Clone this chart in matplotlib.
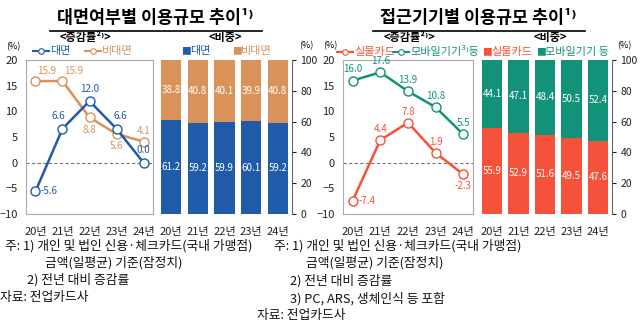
import matplotlib
matplotlib.use("Agg")
import matplotlib.pyplot as plt
from matplotlib.lines import Line2D

plt.rcParams['font.family'] = ['Noto Sans CJK KR', 'DejaVu Sans']

years = ['20년', '21년', '22년', '23년', '24년']

# left panel: 대면 / 비대면
face_growth = [-5.6, 6.6, 12.0, 6.6, 0.0]
nonface_growth = [15.9, 15.9, 8.8, 5.6, 4.1]
face_share = [61.2, 59.2, 59.9, 60.1, 59.2]
nonface_share = [38.8, 40.8, 40.1, 39.9, 40.8]

# right panel: 실물카드 / 모바일기기 등
card_growth = [-7.4, 4.4, 7.8, 1.9, -2.3]
mobile_growth = [16.0, 17.6, 13.9, 10.8, 5.5]
card_share = [55.9, 52.9, 51.6, 49.5, 47.6]
mobile_share = [44.1, 47.1, 48.4, 50.5, 52.4]

BLUE = '#1f5ba8'
TAN = '#d9925a'
RED = '#f4523a'
GREEN = '#13927a'

W, H = 640, 332
fig = plt.figure(figsize=(6.4, 3.32), dpi=100)


def px_axes(x0, y0, x1, y1):
    return fig.add_axes([x0 / W, 1 - y1 / H, (x1 - x0) / W, (y1 - y0) / H])


def ftext(x, y, s, **kw):
    fig.text(x / W, 1 - y / H, s, **kw)


def line_panel(ax, s1, s2, c1, c2, offs1, offs2):
    x = range(len(years))
    ax.axhline(0, color='#777777', lw=0.8, ls=(0, (3, 2)))
    for s, c, offs in ((s2, c2, offs2), (s1, c1, offs1)):
        ax.plot(x, s, color=c, lw=1.8, marker='o', ms=6.5,
                mfc='white', mec=c, mew=1.0, zorder=3)
        for i, v in enumerate(s):
            dx, dy, ha = offs[i]
            ax.annotate(f'{v:.1f}', (i, v), xytext=(dx, dy),
                        textcoords='offset points', ha=ha, va='center',
                        fontsize=7, color=c)
    ax.set_ylim(-10, 20)
    ax.set_yticks(range(-10, 21, 5))
    ax.set_xlim(-0.35, 4.35)
    ax.set_xticks(list(x))
    ax.set_xticklabels(years)
    for sp in ax.spines.values():
        sp.set_color('#aaaaaa')
        sp.set_linewidth(0.8)
    ax.tick_params(length=0, labelsize=8, colors='#222222')
    ax.tick_params(axis='x', pad=9)
    ax.tick_params(axis='y', pad=6)


def bar_panel(ax, bottom, top, cb, ct):
    x = range(len(years))
    ax.bar(x, bottom, width=0.76, color=cb)
    ax.bar(x, top, width=0.76, bottom=bottom, color=ct)
    for i in x:
        ax.text(i, bottom[i] / 2, f'{bottom[i]:.1f}', ha='center',
                va='center', color='white', fontsize=7)
        ax.text(i, bottom[i] + top[i] / 2, f'{top[i]:.1f}', ha='center',
                va='center', color='white', fontsize=7)
    ax.set_ylim(0, 100)
    ax.set_xlim(-0.38, 4.53)
    ax.set_xticks(list(x))
    ax.set_xticklabels(years)
    ax.yaxis.tick_right()
    ax.set_yticks(range(0, 101, 20))
    for k in ('top', 'left', 'bottom'):
        ax.spines[k].set_visible(False)
    ax.spines['right'].set_color('#666666')
    ax.spines['right'].set_linewidth(0.8)
    ax.tick_params(axis='y', length=3, direction='out', labelsize=7.5,
                   colors='#222222', pad=3)
    ax.tick_params(axis='x', length=0, labelsize=8, colors='#222222', pad=9)


def line_legend(x, y, label, c):
    fig.add_artist(Line2D([x / W, (x + 16) / W], [1 - y / H, 1 - y / H],
                          color=c, lw=1.5, transform=fig.transFigure))
    fig.add_artist(Line2D([(x + 8) / W], [1 - y / H], marker='o', ms=4,
                          mfc='white', mec=c, mew=0.8, transform=fig.transFigure))
    ftext(x + 17, y, label, color=c, fontsize=8, va='center', ha='left')


def box_legend(x, y, label, c):
    ftext(x, y, '■', color=c, fontsize=7, va='center', ha='left')
    ftext(x + 9, y, label, color=c, fontsize=8, va='center', ha='left')


# ---------- left panel ----------
ax1 = px_axes(26, 60, 153, 214)
line_panel(ax1, face_growth, nonface_growth, BLUE, TAN,
           [(4, 0, 'left'), (-3, 9, 'center'), (0, 9, 'center'), (3, 9, 'center'), (0, 9, 'center')],
           [(8, 7, 'center'), (8, 7, 'center'), (0, -9, 'center'), (0, -9, 'center'), (0, 8, 'center')])
ax2 = px_axes(161, 60, 292, 214)
bar_panel(ax2, face_share, nonface_share, BLUE, TAN)

ftext(155, 18, '대면여부별 이용규모 추이¹⁾', fontsize=12.5, fontweight='bold',
      ha='center', va='center')
fig.add_artist(Line2D([50 / W, 262 / W], [1 - 31 / H, 1 - 31 / H], color='black',
                      lw=1.2, transform=fig.transFigure))
ftext(85, 38, '<증감률²⁾>', fontsize=8, fontweight='bold', ha='center', va='center')
ftext(225, 38, '<비중>', fontsize=8, fontweight='bold', ha='center', va='center')
ftext(13, 47, '(%)', fontsize=6.5, ha='center', va='center')
ftext(306, 46, '(%)', fontsize=6.5, ha='center', va='center')
line_legend(33, 51, '대면', BLUE)
line_legend(85, 51, '비대면', TAN)
box_legend(181, 51, '대면', BLUE)
box_legend(232, 51, '비대면', TAN)

# ---------- right panel ----------
ax3 = px_axes(343, 60, 473, 214)
line_panel(ax3, card_growth, mobile_growth, RED, GREEN,
           [(4, 0, 'left'), (0, 8, 'center'), (0, 8, 'center'), (0, 8, 'center'), (0, -8, 'center')],
           [(0, 8, 'center'), (0, 8, 'center'), (0, 8, 'center'), (0, 8, 'center'), (0, 8, 'center')])
ax4 = px_axes(482, 60, 612, 214)
bar_panel(ax4, card_share, mobile_share, RED, GREEN)

ftext(478, 18, '접근기기별 이용규모 추이¹⁾', fontsize=12.5, fontweight='bold',
      ha='center', va='center')
fig.add_artist(Line2D([373 / W, 585 / W], [1 - 31 / H, 1 - 31 / H], color='black',
                      lw=1.2, transform=fig.transFigure))
ftext(410, 38, '<증감률²⁾>', fontsize=8, fontweight='bold', ha='center', va='center')
ftext(550, 38, '<비중>', fontsize=8, fontweight='bold', ha='center', va='center')
ftext(330, 46, '(%)', fontsize=6.5, ha='center', va='center')
ftext(624, 46, '(%)', fontsize=6.5, ha='center', va='center')
line_legend(337, 52, '실물카드', RED)
line_legend(393, 52, '모바일기기³⁾등', GREEN)
box_legend(482, 52, '실물카드', RED)
box_legend(536, 52, '모바일기기 등', GREEN)

# ---------- footnotes ----------
fn = dict(fontsize=9.2, ha='left', va='center', color='#111111')
note1 = '주: 1) 개인 및 법인 신용·체크카드(국내 가맹점)'
ftext(5, 246, note1, **fn)
ftext(45, 263, '금액(일평균) 기준(잠정치)', **fn)
ftext(27, 280, '2) 전년 대비 증감률', **fn)
ftext(0, 297, '자료: 전업카드사', **fn)

ftext(274, 246, note1, **fn)
ftext(306, 263, '금액(일평균) 기준(잠정치)', **fn)
ftext(290, 281, '2) 전년 대비 증감률', **fn)
ftext(290, 299, '3) PC, ARS, 생체인식 등 포함', **fn)
ftext(257, 316, '자료: 전업카드사', **fn)

fig.savefig('out.png', dpi=100)
